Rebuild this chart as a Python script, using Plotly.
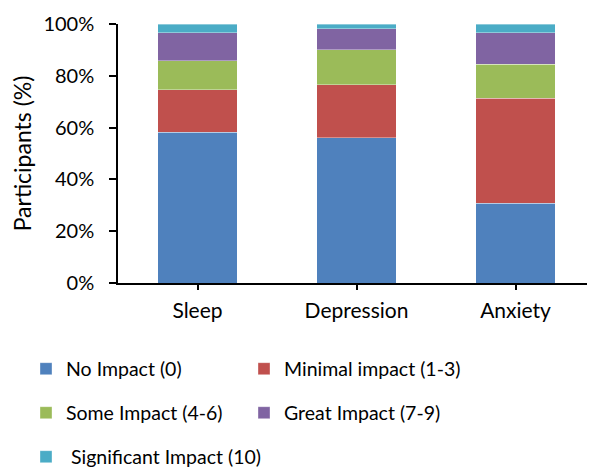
import plotly.graph_objects as go

categories = ["Sleep", "Depression", "Anxiety"]
series_names = ["No Impact (0)", "Minimal impact (1-3)", "Some Impact (4-6)",
                "Great Impact (7-9)", " Significant Impact (10)"]
no_impact = [58.2, 56.0, 30.8]
minimal_impact = [16.4, 20.6, 40.5]
some_impact = [11.2, 13.4, 13.1]
great_impact = [10.8, 8.2, 12.2]
significant_impact = [3.4, 1.8, 3.4]
tick_vals = [0, 20, 40, 60, 80, 100]
tick_text = ["0%", "20%", "40%", "60%", "80%", "100%"]

colors = ["#4F81BD", "#C0504D", "#9BBB59", "#8064A2", "#4BACC6"]
values = [no_impact, minimal_impact, some_impact, great_impact, significant_impact]
legend_ids = ["legend", "legend", "legend2", "legend2", "legend3"]

FONT = "Lato, 'Open Sans', sans-serif"
W, H = 587, 462  # page body has 8px margin

fig = go.Figure()
for name, vals, col, lg in zip(series_names, values, colors, legend_ids):
    fig.add_trace(go.Bar(
        x=categories, y=vals, name=name,
        marker=dict(color=col, line=dict(color="rgba(255,255,255,0.6)", width=0.6)),
        width=0.5, legend=lg,
    ))

def legend_at(row_center_page, entrywidth=173):
    d = dict(orientation="h", xref="container", yref="container",
             x=18 / W, xanchor="left", yanchor="middle",
             y=1 - (row_center_page - 8) / H,
             traceorder="normal",
             font=dict(family=FONT, size=19.5, color="#000"),
             bgcolor="rgba(0,0,0,0)", itemclick=False)
    if entrywidth:
        d.update(entrywidth=entrywidth, entrywidthmode="pixels")
    return d

fig.update_layout(
    width=W, height=H,
    barmode="stack",
    plot_bgcolor="white", paper_bgcolor="white",
    margin=dict(l=110, r=0, t=16, b=187, autoexpand=False),
    font=dict(family=FONT, size=20, color="#000"),
    showlegend=True,
    legend=legend_at(369),
    legend2=legend_at(413),
    legend3=legend_at(457, entrywidth=None),
    xaxis=dict(
        showline=True, linecolor="#000", linewidth=1.5,
        ticks="outside", ticklen=5, tickcolor="#000", tickwidth=1.5,
        tickfont=dict(family=FONT, size=21, color="#000"),
        ticklabelstandoff=3,
    ),
    yaxis=dict(
        range=[0, 100], tickvals=tick_vals, ticktext=tick_text,
        showline=True, linecolor="#000", linewidth=1.5,
        ticks="outside", ticklen=7, tickcolor="#000", tickwidth=1.5,
        showgrid=False, zeroline=False,
        tickfont=dict(family=FONT, size=20, color="#000"),
        ticklabelstandoff=11,
        title=dict(text="Participants (%)", font=dict(family=FONT, size=23, color="#000"),
                   standoff=14),
    ),
    bargap=0.5,
)

fig.write_html("out.html")
